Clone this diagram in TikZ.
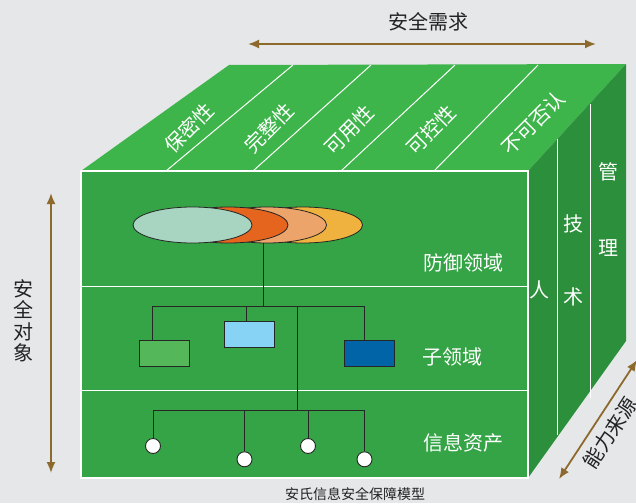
\documentclass[tikz,border=0pt]{standalone}
\usepackage{fontspec}
\setmainfont{Noto Sans CJK SC}
\usetikzlibrary{shapes.geometric,arrows.meta}
\definecolor{bg}{HTML}{E6E7E9}
\definecolor{topg}{HTML}{3DB54A}
\definecolor{frontg}{HTML}{35A446}
\definecolor{sideg}{HTML}{2C8F3C}
\definecolor{brownarrow}{HTML}{8C6A2E}
\definecolor{ellA}{HTML}{A8D5C2}
\definecolor{ellB}{HTML}{E5641E}
\definecolor{ellC}{HTML}{ECA46A}
\definecolor{ellD}{HTML}{F0B23F}
\definecolor{rgreen}{HTML}{54B85A}
\definecolor{rlblue}{HTML}{87D3F5}
\definecolor{rdblue}{HTML}{0064A6}
\definecolor{darktext}{HTML}{222222}
\tikzset{
  facetext/.style={text=white, font=\fontsize{20}{22}\selectfont, inner sep=0pt},
  outtext/.style={text=darktext, font=\fontsize{20}{21.5}\selectfont, inner sep=0pt},
  ellnode/.style={ellipse, draw=black!85, line width=0.8pt, minimum width=119pt, minimum height=36pt, inner sep=0pt},
  boxnode/.style={rectangle, draw=black!85, line width=0.9pt, minimum width=50pt, minimum height=26pt, inner sep=0pt},
  leafnode/.style={circle, draw=black!85, fill=white, line width=0.9pt, minimum size=15pt, inner sep=0pt},
  treeline/.style={draw=black!85, line width=1pt},
  sepline/.style={draw=white, line width=1pt},
  dimarrow/.style={draw=brownarrow, line width=1.8pt, {Latex[length=11pt,width=9pt]}-{Latex[length=11pt,width=9pt]}}
}
\begin{document}
\begin{tikzpicture}[x=1pt,y=-1pt]
\fill[bg] (0,0) rectangle (636,503);
\useasboundingbox (0,0) rectangle (636,503);
% faces
\fill[topg] (81,171) -- (229,65) -- (626,64) -- (528,171) -- cycle;
\fill[sideg] (528,171) -- (626,64) -- (626,341) -- (528,478) -- cycle;
\fill[frontg] (81,171) rectangle (528,478);
\draw[white, line width=1.2pt] (81,171) rectangle (528,478);
% top face dividers
\draw[sepline] (293,65) -- (166,171);
\draw[sepline] (371,65) -- (253,171);
\draw[sepline] (455,65) -- (341,171);
\draw[sepline] (538,65) -- (434,171);
% side face dividers
\draw[sepline] (557.5,139) -- (557.5,435);
\draw[sepline] (590,104) -- (590,398);
% front dividers
\draw[sepline] (81,286) -- (528,286);
\draw[sepline] (81,390) -- (528,390);
% top texts
\node[facetext, rotate=45] (t1) at (189,128) {保密性};
\node[facetext, rotate=45] (t2) at (269,128) {完整性};
\node[facetext, rotate=45] (t3) at (349,130) {可用性};
\node[facetext, rotate=45] (t4) at (431,130) {可控性};
\node[facetext, rotate=45] (t5) at (533,123) {不可否认};
% side texts
\node[facetext] (s1) at (539,290) {人};
\node[facetext] (s2) at (573,224) {技};
\node[facetext] (s3) at (573,297) {术};
\node[facetext] (s4) at (608,172) {管};
\node[facetext] (s5) at (608,248) {理};
% front labels
\node[facetext] (l1) at (463,263) {防御领域};
\node[facetext] (l2) at (452,357) {子领域};
\node[facetext] (l3) at (463,443) {信息资产};
% ellipses
\node[ellnode, fill=ellD] (e4) at (303,225) {};
\node[ellnode, fill=ellC] (e3) at (267,225) {};
\node[ellnode, fill=ellB] (e2) at (228.5,225) {};
\node[ellnode, fill=ellA] (e1) at (192.5,225) {};
% boxes
\node[boxnode, fill=rgreen] (rg) at (164,353.5) {};
\node[boxnode, fill=rlblue] (rl) at (249,334.7) {};
\node[boxnode, fill=rdblue] (rd) at (369.5,353.5) {};
% leaves
\node[leafnode] (c1) at (153,446) {};
\node[leafnode] (c2) at (244.5,459.3) {};
\node[leafnode] (c3) at (308,446) {};
\node[leafnode] (c4) at (364.5,459.3) {};
% tree coordinates
\coordinate (top) at (263,243);
\coordinate (bus1) at (263,306);
\coordinate (b1L) at (152,306);
\coordinate (b1M) at (246,306);
\coordinate (b1T) at (297,306);
\coordinate (b1R) at (364,306);
\coordinate (b2T) at (297,410.5);
\coordinate (b2L) at (153,410.5);
\coordinate (b2R) at (364.5,410.5);
\draw[treeline] (top) -- (bus1);
\draw[treeline] (b1L) -- (b1R);
\draw[treeline] (b1L) -- (b1L |- rg.north);
\draw[treeline] (b1M) -- (b1M |- rl.north);
\draw[treeline] (b1R) -- (b1R |- rd.north);
\draw[treeline] (b1T) -- (b2T);
\draw[treeline] (b2L) -- (b2R);
\draw[treeline] (b2L) -- (c1.north);
\draw[treeline] (b2T -| c2) -- (c2.north);
\draw[treeline] (b2T -| c3) -- (c3.north);
\draw[treeline] (b2R) -- (c4.north);
% outer arrows and labels
\coordinate (ha) at (248,44);
\coordinate (hb) at (596,44);
\draw[dimarrow] (ha) -- (hb);
\node[outtext] (need) at (428,22) {安全需求};
\coordinate (va) at (51,193);
\coordinate (vb) at (51,473);
\draw[dimarrow] (va) -- (vb);
\node[outtext, align=center] (obj) at (23,321) {安\\全\\对\\象};
\coordinate (da) at (637,360);
\coordinate (db) at (559,479);
\draw[dimarrow] (da) -- (db);
\node[outtext, rotate=57] (src) at (610,433) {能力来源};
\node[text=darktext, font=\fontsize{14}{16}\selectfont, inner sep=0pt] (cap) at (355,494) {安氏信息安全保障模型};
\end{tikzpicture}
\end{document}
